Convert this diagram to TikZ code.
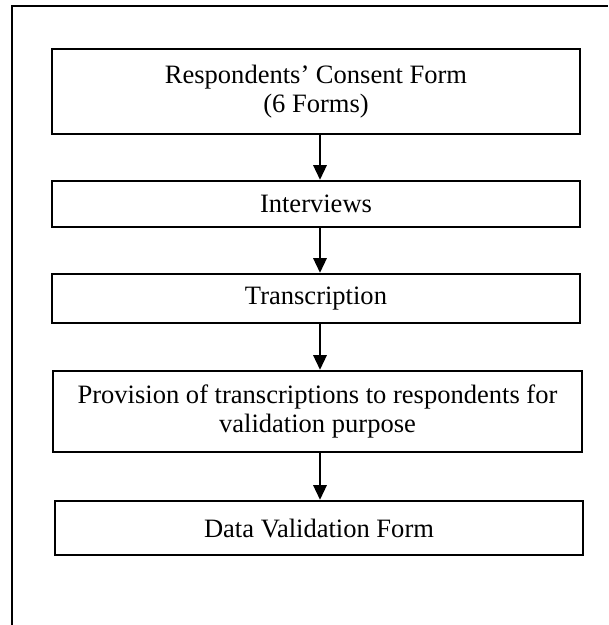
\documentclass[tikz,border=0pt]{standalone}
\usepackage{fontspec}
\setmainfont{Liberation Serif}
\usetikzlibrary{arrows.meta}
\begin{document}
\begin{tikzpicture}[x=0.75pt, y=-0.75pt,
  stepbox/.style={draw=black, line width=1.8pt, align=center, inner sep=0pt,
    font=\fontsize{19.9}{21.5}\selectfont},
  flow/.style={-{Triangle[length=11pt, width=10pt]}, line width=1.6pt},
  frameline/.style={line width=1.8pt}]
\useasboundingbox (0,0) rectangle (608,625);

% open frame round the flow chart (left and top sides only)
\coordinate (fb) at (12,625);
\coordinate (fc) at (12,6);
\coordinate (fr) at (608,6);
\draw[frameline] (fb) -- (fc) -- (fr);

% steps of the procedure
\node[stepbox, minimum width=528*0.75pt, minimum height=85*0.75pt] (consent) at (316,91.5)
  {Respondents’ Consent Form\\(6 Forms)};
\node[stepbox, minimum width=528*0.75pt, minimum height=46*0.75pt] (interviews) at (316,204)
  {Interviews};
\node[stepbox, minimum width=528*0.75pt, minimum height=49*0.75pt] (transcr) at (316,298.5)
  {Transcription};
\node[stepbox, minimum width=529*0.75pt, minimum height=81*0.75pt] (provision) at (317.5,411.5)
  {Provision of transcriptions to respondents for\\validation purpose};
\node[stepbox, minimum width=528*0.75pt, minimum height=54*0.75pt] (validation) at (319,528)
  {Data Validation Form};

% arrows between the steps
\coordinate (ax) at (320,0);
\draw[flow] (consent.south -| ax) -- (interviews.north -| ax);
\draw[flow] (interviews.south -| ax) -- (transcr.north -| ax);
\draw[flow] (transcr.south -| ax) -- (provision.north -| ax);
\draw[flow] (provision.south -| ax) -- (validation.north -| ax);
\end{tikzpicture}
\end{document}
